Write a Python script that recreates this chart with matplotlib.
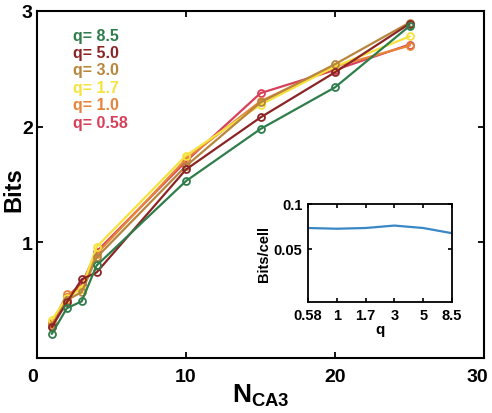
import matplotlib
matplotlib.use("Agg")
import matplotlib.pyplot as plt
import matplotlib.transforms as mtransforms
import numpy as np

plt.rcParams['font.family'] = ['Liberation Sans', 'DejaVu Sans']
plt.rcParams['font.weight'] = 'bold'
plt.rcParams['mathtext.fontset'] = 'custom'
plt.rcParams['mathtext.rm'] = 'Liberation Sans:bold'
plt.rcParams['mathtext.bf'] = 'Liberation Sans:bold'
plt.rcParams['mathtext.it'] = 'Liberation Sans:bold'

n_ca3 = [1, 2, 3, 4, 10, 15, 20, 25]
q_labels = ["q= 8.5", "q= 5.0", "q= 3.0", "q= 1.7", "q= 1.0", "q= 0.58"]
bits_q85 = [0.21, 0.43, 0.49, 0.80, 1.53, 1.98, 2.34, 2.87]
bits_q50 = [0.27, 0.48, 0.68, 0.74, 1.63, 2.08, 2.47, 2.89]
bits_q30 = [0.28, 0.50, 0.57, 0.87, 1.66, 2.21, 2.54, 2.90]
bits_q17 = [0.33, 0.52, 0.60, 0.96, 1.75, 2.19, 2.52, 2.78]
bits_q10 = [0.29, 0.55, 0.60, 0.90, 1.72, 2.22, 2.52, 2.70]
bits_q058 = [0.30, 0.53, 0.64, 0.92, 1.70, 2.29, 2.49, 2.71]

inset_q_labels = ["0.58", "1", "1.7", "3", "5", "8.5"]
bits_per_cell = [0.0733, 0.0725, 0.0733, 0.0760, 0.0733, 0.0675]

series = [bits_q85, bits_q50, bits_q30, bits_q17, bits_q10, bits_q058]
colors = ["#2f7d4a", "#8b2525", "#b8853c", "#f6e23c", "#e8843a", "#d8405a"]

fig = plt.figure(figsize=(4.92, 4.14), dpi=100)
ax = fig.add_axes([37/492, 1-359/414, (484-37)/492, (359-12)/414])

for vals, c in reversed(list(zip(series, colors))):
    ax.plot(n_ca3, vals, '-o', color=c, lw=1.6, ms=5, mfc='none', mew=1.3)

ax.set_xlim(0, 30)
ax.set_ylim(0, 3)
ax.set_xticks([0, 10, 20, 30])
ax.set_yticks([1, 2, 3])
ax.tick_params(direction='in', top=True, right=True, length=4, width=1.3,
               labelsize=14)
ax.tick_params(axis='x', pad=7)
ax.tick_params(axis='y', pad=3)
for lab in ax.get_xticklabels() + ax.get_yticklabels():
    lab.set_fontweight('bold')
xl = ax.get_xticklabels()
xl[0].set_transform(xl[0].get_transform() + mtransforms.ScaledTranslation(-4/100, 0, fig.dpi_scale_trans))
xl[-1].set_transform(xl[-1].get_transform() + mtransforms.ScaledTranslation(-7/100, 0, fig.dpi_scale_trans))
for s in ax.spines.values():
    s.set_linewidth(1.5)
ax.set_xlabel(r"$\mathbf{N_{CA3}}$", fontsize=19, labelpad=-2)
fig.text(2/492, 1-190/414, "Bits", rotation=90, fontsize=17, fontweight='bold',
         ha='left', va='center')

for i, (lab, c) in enumerate(zip(q_labels, colors)):
    ax.text(2.4, 2.79 - i*0.15, lab, color=c, fontsize=11.5, fontweight='bold',
            va='center', ha='left')

ins = fig.add_axes([308/492, 1-303/414, (452-308)/492, (303-205)/414])
idx = np.arange(len(inset_q_labels))
ins.plot(idx, bits_per_cell, color="#3a87c6", lw=1.6)
ins.set_xlim(0, len(inset_q_labels)-1)
ins.set_ylim(-0.009, 0.1)
ins.set_yticks([0.05, 0.1])
ins.set_yticklabels(["0.05", "0.1"])
ins.set_xticks(idx)
ins.set_xticklabels(inset_q_labels)
ins.tick_params(direction='in', top=True, right=True, length=3, width=1.2,
                labelsize=10.5, pad=4)
for lab in ins.get_xticklabels() + ins.get_yticklabels():
    lab.set_fontweight('bold')
for s in ins.spines.values():
    s.set_linewidth(1.3)
ins.set_xlabel("q", fontsize=11, fontweight='bold', labelpad=0)
ins.set_ylabel("Bits/cell", fontsize=10.5, fontweight='bold', labelpad=2)

fig.savefig("out.png", dpi=100)
